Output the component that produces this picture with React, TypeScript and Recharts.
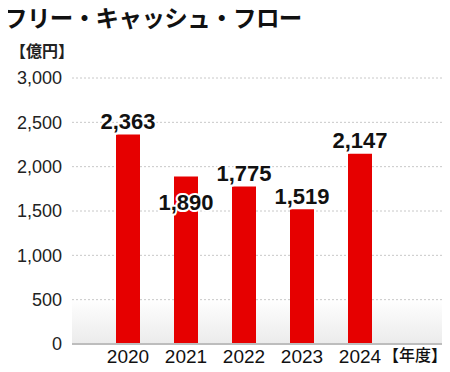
import React from 'react';
import { BarChart, Bar, XAxis, YAxis, CartesianGrid, LabelList } from 'recharts';

const years = ['2020', '2021', '2022', '2023', '2024'];
const freeCashFlow = [2363, 1890, 1775, 1519, 2147];
const yTicks = [0, 500, 1000, 1500, 2000, 2500, 3000];
const unitX = '【年度】';
const unitY = '【億円】';
const title = 'フリー・キャッシュ・フロー';

// last category only carries the unit label, no bar
const data = [
  ...years.map((y, i) => ({ year: y, value: freeCashFlow[i] })),
  { year: unitX, value: null },
];

const FONT = '"Liberation Sans", "Noto Sans CJK JP", sans-serif';
const JP = '"Noto Sans CJK JP", sans-serif';

const ValueLabel = (props: any) => {
  const { x, y, width, value, index } = props;
  if (value == null) return null;
  // 2021 label sits over the top of its bar in the original
  const cy = years[index] === '2021' ? y + 26 : y - 13;
  return (
    <text
      x={x + width / 2}
      y={cy}
      textAnchor="middle"
      dominantBaseline="central"
      fontSize={22}
      fontWeight="bold"
      fontFamily={FONT}
      fill="#111"
      stroke="#fff"
      strokeWidth={4}
      paintOrder="stroke"
      strokeLinejoin="round"
    >
      {value.toLocaleString('en-US')}
    </text>
  );
};

const XTick = (props: any) => {
  const { x, y, payload } = props;
  const isUnit = payload.value === unitX;
  return (
    <text
      x={isUnit ? x - 3 : x}
      y={y}
      dy="0.71em"
      textAnchor="middle"
      fontSize={isUnit ? 16 : 19}
      fontWeight={isUnit ? 500 : 'normal'}
      fontFamily={isUnit ? JP : FONT}
      fill="#111"
    >
      {payload.value}
    </text>
  );
};

export default function App() {
  return (
    <div style={{ position: 'relative', width: 450, height: 372, margin: -8, background: '#fff', fontFamily: FONT, overflow: 'hidden' }}>
      <div style={{ position: 'absolute', left: 4, top: 2, fontSize: 23.5, fontWeight: 'bold', color: '#111', fontFamily: JP, letterSpacing: -0.6, lineHeight: '30px', whiteSpace: 'nowrap' }}>
        {title}
      </div>
      <div style={{ position: 'absolute', left: 10, top: 38, fontSize: 16, fontWeight: 'bold', color: '#222', fontFamily: JP, lineHeight: '24px' }}>
        {unitY}
      </div>
      <BarChart
        width={450}
        height={372}
        data={data}
        margin={{ top: 78, right: 3, bottom: 0, left: 0 }}
        style={{ position: 'absolute', left: 0, top: 0 }}
      >
        <defs>
          <linearGradient id="floorFade" x1="0" y1="0" x2="0" y2="1">
            <stop offset="0%" stopColor="#ffffff" />
            <stop offset="83%" stopColor="#ffffff" />
            <stop offset="100%" stopColor="#ebebeb" />
          </linearGradient>
        </defs>
        <CartesianGrid vertical={false} stroke="#c8c8c8" strokeDasharray="2 2" fill="url(#floorFade)" fillOpacity={1} />
        <XAxis
          dataKey="year"
          height={28}
          padding={{ left: 27, right: 0 }}
          axisLine={{ stroke: '#bdbdbd', strokeWidth: 2 }}
          tickLine={false}
          tickMargin={0}
          tick={<XTick />}
          interval={0}
        />
        <YAxis
          width={72}
          domain={[0, 3000]}
          ticks={yTicks}
          axisLine={false}
          tickLine={false}
          tickMargin={4}
          tick={{ fontSize: 18, fill: '#222', fontFamily: FONT }}
          tickFormatter={(v: number) => v.toLocaleString('en-US')}
          interval={0}
        />
        <Bar dataKey="value" fill="#e60000" barSize={24} isAnimationActive={false}>
          <LabelList dataKey="value" content={ValueLabel} />
        </Bar>
      </BarChart>
    </div>
  );
}
